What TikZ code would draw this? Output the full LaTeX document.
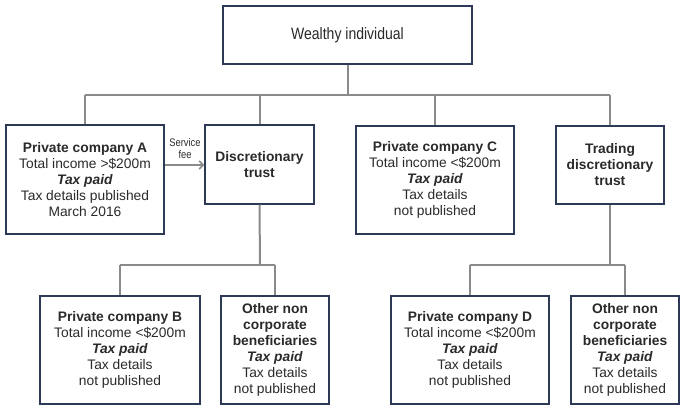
\documentclass[tikz,border=0pt]{standalone}
\usepackage{fontspec}
\setmainfont{Liberation Sans}
\newfontfamily\narrowfont[FakeStretch=0.85]{Liberation Sans}
\usetikzlibrary{arrows.meta}
\definecolor{boxline}{HTML}{2E3857}
\definecolor{conn}{HTML}{8A8A8A}
\definecolor{txt}{HTML}{2A2A2A}
\begin{document}
\begin{tikzpicture}[x=1bp,y=-1bp,
  entity/.style={draw=boxline,line width=1.4bp,fill=white,inner sep=0pt,
    align=center,text=txt,font=\fontsize{13.8bp}{16bp}\selectfont},
  link/.style={draw=conn,line width=2bp},
  smalltext/.style={text=txt,font=\narrowfont\fontsize{11bp}{12.5bp}\selectfont,align=center,inner sep=0pt}]
\useasboundingbox (0,0) rectangle (689,415);
% nodes
\node[entity,minimum width=249bp,minimum height=58bp,font=\narrowfont\fontsize{16.5bp}{18bp}\selectfont] (top) at (347.5,35) {Wealthy individual};
\node[entity,minimum width=158bp,minimum height=109bp] (pa) at (85,179.5)
  {\textbf{Private company A}\\Total income >\$200m\\\textbf{\textit{Tax paid}}\\Tax details published\\March 2016};
\node[entity,minimum width=109bp,minimum height=79bp] (dt) at (259.5,164.5)
  {\textbf{Discretionary}\\\textbf{trust}};
\node[entity,minimum width=158bp,minimum height=108bp] (pc) at (435,180)
  {\textbf{Private company C}\\Total income <\$200m\\\textbf{\textit{Tax paid}}\\Tax details\\not published};
\node[entity,minimum width=108bp,minimum height=78bp] (tdt) at (610,165)
  {\textbf{Trading}\\\textbf{discretionary}\\\textbf{trust}};
\node[entity,minimum width=160bp,minimum height=108bp] (pb) at (120,350)
  {\textbf{Private company B}\\Total income <\$200m\\\textbf{\textit{Tax paid}}\\Tax details\\not published};
\node[entity,minimum width=108bp,minimum height=108bp] (on1) at (275,350)
  {\textbf{Other non}\\\textbf{corporate}\\\textbf{beneficiaries}\\\textbf{\textit{Tax paid}}\\Tax details\\not published};
\node[entity,minimum width=158bp,minimum height=108bp] (pd) at (470,350)
  {\textbf{Private company D}\\Total income <\$200m\\\textbf{\textit{Tax paid}}\\Tax details\\not published};
\node[entity,minimum width=108bp,minimum height=108bp] (on2) at (625,350)
  {\textbf{Other non}\\\textbf{corporate}\\\textbf{beneficiaries}\\\textbf{\textit{Tax paid}}\\Tax details\\not published};
% bus coordinates
\coordinate (b1) at (347.5,95);
\coordinate (b2) at (260,265);
\coordinate (b3) at (610,265);
% connectors
\draw[link] (top.south) -- (b1);
\draw[link] (pa.north |- b1) -- (tdt.north |- b1);
\draw[link] (pa.north) -- (pa.north |- b1);
\draw[link] (dt.north) -- (dt.north |- b1);
\draw[link] (pc.north) -- (pc.north |- b1);
\draw[link] (tdt.north) -- (tdt.north |- b1);
\draw[link] (dt.south) -- (b2);
\draw[link] (pb.north |- b2) -- (on1.north |- b2);
\draw[link] (pb.north) -- (pb.north |- b2);
\draw[link] (on1.north) -- (on1.north |- b2);
\draw[link] (tdt.south) -- (b3);
\draw[link] (pd.north |- b3) -- (on2.north |- b3);
\draw[link] (pd.north) -- (pd.north |- b3);
\draw[link] (on2.north) -- (on2.north |- b3);
% service fee arrow
\coordinate (sfa) at (164.7,165);
\coordinate (sfb) at (204.3,165);
\draw[link,line width=1.5bp,-{Straight Barb[length=4bp,width=8bp]}] (sfa) -- (sfb);
\node[smalltext] (sf) at (185,148.5) {Service\\fee};
\end{tikzpicture}
\end{document}
